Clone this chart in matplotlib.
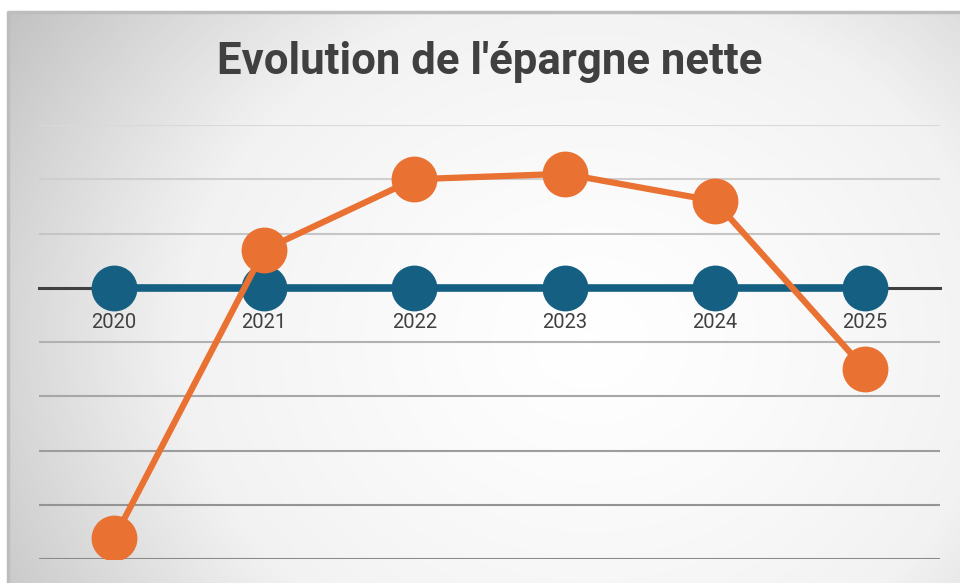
import numpy as np
import matplotlib.pyplot as plt
from matplotlib.colors import LinearSegmentedColormap

years = ['2020', '2021', '2022', '2023', '2024', '2025']
base = [0, 0, 0, 0, 0, 0]
epargne = [-4.62, 0.7, 2.0, 2.1, 1.6, -1.5]
grid_levels = [-5, -4, -3, -2, -1, 1, 2, 3]

W, H = 960, 583
fig = plt.figure(figsize=(W / 100, H / 100), dpi=100)
fig.patch.set_facecolor('white')

# radial grey background inside the chart frame
bg = fig.add_axes([8 / W, 0, 1 - 8 / W, 1 - 12 / H])
bg.set_axis_off()
yy, xx = np.mgrid[12:H:1.0, 8:W:1.0]
r = np.hypot((xx - 590) / 1.0, (yy - 340) / 0.85)
r = r / r.max()
cmap = LinearSegmentedColormap.from_list('bg', ['#ffffff', '#f2f2f2', '#c2c2c2'])
bg.imshow(r ** 1.3, cmap=cmap, vmin=0, vmax=1, aspect='auto',
          extent=[0, 1, 0, 1], origin='upper')
bg.plot([0, 0, 1], [0, 1, 1], color='#bdbdbd', lw=2.5, transform=bg.transAxes, clip_on=False)

# plot area: x 39..940, y 125..559 px
ax = fig.add_axes([39 / W, 1 - 559 / H, (940 - 39) / W, (559 - 125) / H])
ax.patch.set_alpha(0)
x = np.arange(len(years))
ax.set_xlim(-0.5, len(years) - 0.5)
ax.set_ylim(-5, 3)

for g in grid_levels:
    shade = 0.85 - (3 - g) / 8 * 0.31
    ax.axhline(g, color=(shade, shade, shade), lw=1.5, zorder=1)

for s in ['top', 'right', 'left']:
    ax.spines[s].set_visible(False)
ax.spines['bottom'].set_position(('data', 0))
ax.spines['bottom'].set_color('#404040')
ax.spines['bottom'].set_linewidth(2.2)
ax.spines['bottom'].set_zorder(2)
ax.set_yticks([])
ax.set_xticks(x)
ax.set_xticklabels(years, family='Roboto')
ax.tick_params(axis='x', length=0, pad=18, labelsize=14.5, labelcolor='#404040')

ax.plot(x, base, color='#156082', lw=5.5, marker='o', ms=32, zorder=3)
ax.plot(x, epargne, color='#E97132', lw=4.5, marker='o', ms=32, zorder=4)

fig.text(490 / W, 1 - 62 / H, "Evolution de l'épargne nette", ha='center', va='center',
         fontsize=31.5, fontweight='bold', color='#404040', family='Roboto')

fig.savefig('out.png', dpi=100)
